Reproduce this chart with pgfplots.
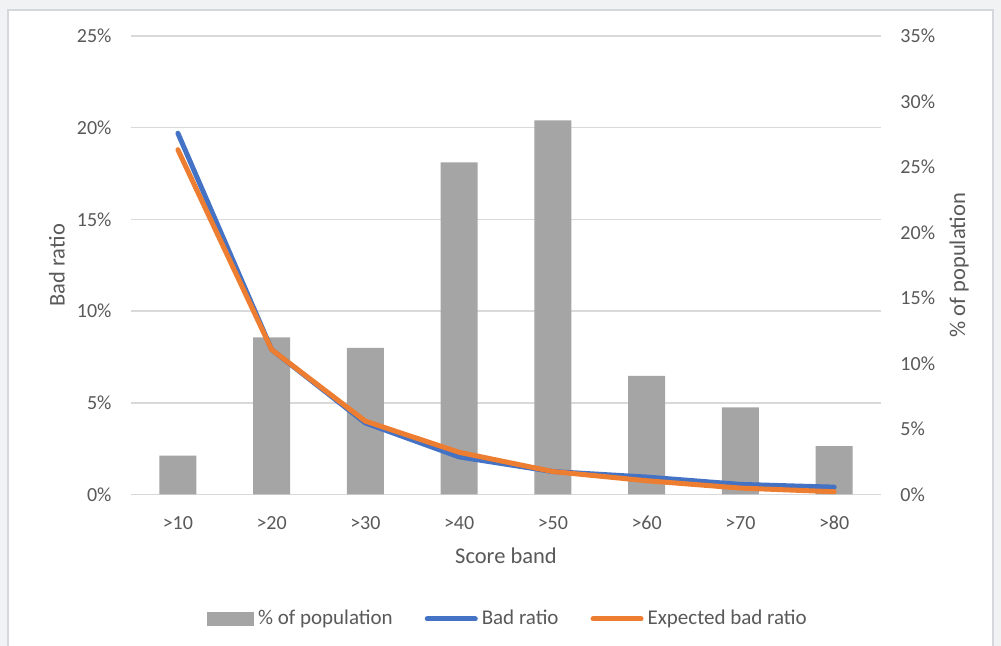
\documentclass[border=0pt]{standalone}
\usepackage{pgfplots}
\pgfplotsset{compat=1.18}
\usepackage{fontspec}
\setmainfont{Carlito}

\definecolor{txtgray}{HTML}{595959}
\definecolor{gridgray}{HTML}{D9D9D9}
\definecolor{bargray}{HTML}{A5A5A5}
\definecolor{badblue}{HTML}{4472C4}
\definecolor{exporange}{HTML}{ED7D31}
\definecolor{framegray}{HTML}{D4D7DB}
\definecolor{pagegray}{HTML}{F1F2F4}

\tikzset{axtitle/.style={font=\fontsize{11.25}{13.5}\selectfont, text=txtgray}}

% shared geometry of the three stacked axes
\pgfplotsset{
  band/.style={
    at={(65.5pt,75.75pt)}, anchor=south west,
    scale only axis, width=375pt, height=229.25pt,
    xmin=-0.5, xmax=7.5,
    tick style={draw=none},
    tick label style={font=\fontsize{10}{12}\selectfont, text=txtgray},
  },
}

\begin{document}
\begin{tikzpicture}
\useasboundingbox (0,0) rectangle (500.5pt,323pt);
\fill[pagegray] (0,0) rectangle (500.5pt,323pt);
\filldraw[fill=white, draw=framegray, line width=0.6pt] (4pt,-2pt) rectangle (496.5pt,318pt);

% left axis: grid, category labels and titles
\begin{axis}[band,
  ymin=0, ymax=25, ytick={0,5,10,15,20,25},
  yticklabels={0\%,5\%,10\%,15\%,20\%,25\%},
  xtick={0,...,7},
  xticklabels={>10,>20,>30,>40,>50,>60,>70,>80},
  ymajorgrids, grid style={gridgray, line width=0.8pt},
  axis line style={draw=none},
  yticklabel style={anchor=east, xshift=-6.2pt},
  xticklabel style={anchor=center, yshift=-14.1pt},
  ylabel={Bad ratio},
  ylabel style={axtitle, at={(axis description cs:-0.0987,0.5)}, anchor=center},
  xlabel={Score band},
  xlabel style={axtitle, at={(axis description cs:0.5,-0.134)}, anchor=center},
]
\addplot[draw=none, forget plot] coordinates {(0,0)};
\end{axis}

% right axis: share of population per band
\begin{axis}[band,
  ymin=0, ymax=35, ytick={0,5,...,35},
  yticklabels={0\%,5\%,10\%,15\%,20\%,25\%,30\%,35\%},
  axis y line*=right, axis x line=none,
  y axis line style={draw=none},
  yticklabel style={anchor=west, xshift=6.2pt},
  ylabel={\% of population},
  ylabel style={axtitle, at={(axis description cs:1.104,0.5)}, anchor=center},
]
\addplot[ybar, bar width=18.5pt, fill=bargray, draw=none] coordinates {
  (0,2.97) (1,12.0) (2,11.2) (3,25.35) (4,28.55) (5,9.05) (6,6.65) (7,3.7)
};
\end{axis}

% bad ratio lines on the left scale, with the legend
\begin{axis}[band,
  ymin=0, ymax=25, hide axis,
  legend style={draw=none, fill=none,
    at={(axis description cs:0.504,-0.2715)}, anchor=center,
    legend columns=3, font=\fontsize{10.5}{12.6}\selectfont, text=txtgray,
    /tikz/every even column/.append style={column sep=14pt}},
  legend cell align=left,
]
\addlegendimage{legend image code/.code={\fill[bargray] (0pt,-3.25pt) rectangle (23pt,3.25pt);}}
\addlegendentry{\% of population}
\addplot[badblue, line width=2.5pt, line cap=round, line join=round,
  legend image code/.code={\draw[badblue, line width=2.5pt, line cap=round] (0pt,0pt) -- (24pt,0pt);}]
  coordinates {
  (0,19.7) (1,7.9) (2,3.9) (3,2.05) (4,1.25) (5,0.95) (6,0.55) (7,0.4)
};
\addlegendentry{Bad ratio}
\addplot[exporange, line width=2.5pt, line cap=round, line join=round,
  legend image code/.code={\draw[exporange, line width=2.5pt, line cap=round] (0pt,0pt) -- (24pt,0pt);}]
  coordinates {
  (0,18.8) (1,7.9) (2,4.0) (3,2.3) (4,1.25) (5,0.75) (6,0.35) (7,0.15)
};
\addlegendentry{Expected bad ratio}
\end{axis}
\end{tikzpicture}
\end{document}
